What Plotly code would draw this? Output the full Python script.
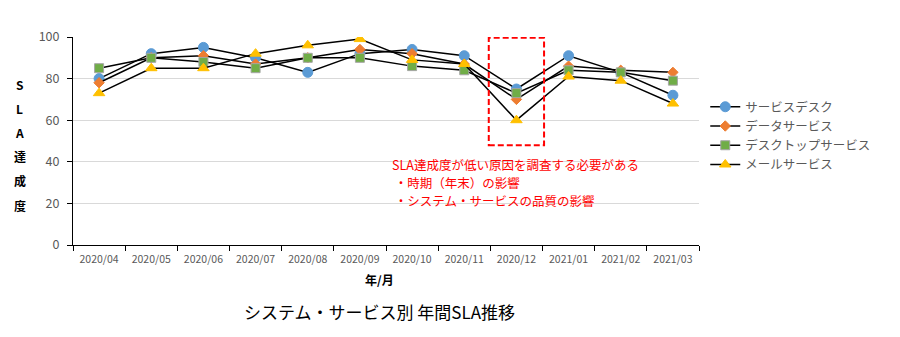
import plotly.graph_objects as go

months = ["2020/04", "2020/05", "2020/06", "2020/07", "2020/08", "2020/09",
          "2020/10", "2020/11", "2020/12", "2021/01", "2021/02", "2021/03"]
service_desk = [80, 92, 95, 90, 83, 92, 94, 91, 75, 91, 83, 72]
data_service = [78, 90, 91, 87, 90, 94, 92, 87, 70, 86, 84, 83]
desktop_service = [85, 90, 88, 85, 90, 90, 86, 84, 73, 84, 83, 79]
mail_service = [73, 85, 85, 92, 96, 99, 89, 87, 60, 81, 79, 68]

series_names = ["サービスデスク", "データサービス", "デスクトップサービス", "メールサービス"]
y_ticks = [0, 20, 40, 60, 80, 100]
y_title_chars = ["S", "L", "A", "達", "成", "度"]
note_lines = ["SLA達成度が低い原因を調査する必要がある",
              " ・時期（年末）の影響",
              " ・システム・サービスの品質の影響"]

JP = "Noto Sans CJK JP"
styles = [
    dict(symbol="circle", size=10, color="#5B9BD5", line=dict(color="#5B9BD5", width=1)),
    dict(symbol="diamond", size=8, color="#ED7D31", line=dict(color="#ED7D31", width=1)),
    dict(symbol="square", size=9, color="#70AD47", line=dict(color="#A5A5A5", width=1)),
    dict(symbol="triangle-up", size=10, color="#FFC000", line=dict(color="#FFC000", width=1)),
]

fig = go.Figure()
for name, vals, st in zip(series_names,
                          [service_desk, data_service, desktop_service, mail_service],
                          styles):
    fig.add_trace(go.Scatter(x=months, y=vals, name=name, mode="lines+markers",
                             line=dict(color="black", width=1.5), marker=st))

fig.add_shape(type="rect", xref="x", yref="y", x0=7.47, x1=8.53, y0=48, y1=99.6,
              line=dict(color="red", width=2, dash="6px,3px"), fillcolor="rgba(0,0,0,0)")

for i, line in enumerate(note_lines):
    fig.add_annotation(xref="x", yref="y", x=5.6, y=(245 - (164 + i * 18.3)) / 2.08,
                       xanchor="left", yanchor="middle", align="left", showarrow=False,
                       borderpad=0, text=line,
                       font=dict(family=JP, size=12.5, color="#FF0000"))

for i, ch in enumerate(y_title_chars):
    fig.add_annotation(xref="paper", yref="paper", x=-0.085,
                       y=(245 - (84 + i * 24.2)) / 208, xanchor="center", yanchor="middle",
                       showarrow=False, text="<b>" + ch + "</b>",
                       font=dict(family=JP, size=12, color="black"))
fig.add_annotation(xref="paper", yref="paper", x=0.49, y=-0.113, xanchor="center", yanchor="top",
                   showarrow=False, text="<b>年/月</b>",
                   font=dict(family=JP, size=12, color="black"))
fig.add_annotation(xref="paper", yref="paper", x=0.49, y=-0.25, xanchor="center", yanchor="top",
                   showarrow=False, text="システム・サービス別 年間SLA推移",
                   font=dict(family=JP, size=17, color="black"))

fig.update_layout(
    width=900, height=337,
    margin=dict(l=73, r=201, t=37, b=92),
    paper_bgcolor="white", plot_bgcolor="white",
    font=dict(family=JP, color="#595959"),
    showlegend=True,
    legend=dict(x=1.01, y=0.735, xanchor="left", yanchor="top",
                font=dict(family=JP, size=12.5, color="#595959"),
                tracegroupgap=0, itemwidth=30),
    xaxis=dict(type="category", range=[-0.5, 11.5], showgrid=False,
               showline=True, linecolor="black", linewidth=1,
               ticks="outside", tickson="boundaries", ticklen=5, tickcolor="black",
               ticklabelstandoff=4,
               tickfont=dict(family=JP, size=10.5, color="#595959")),
    yaxis=dict(range=[0, 100], tickvals=y_ticks, showgrid=True, gridcolor="#D9D9D9",
               gridwidth=1, showline=True, linecolor="black", linewidth=1,
               ticks="outside", ticklen=5, tickcolor="black", zeroline=False,
               ticklabelstandoff=5,
               tickfont=dict(family=JP, size=12.5, color="#595959")),
)

fig.write_html("out.html")
